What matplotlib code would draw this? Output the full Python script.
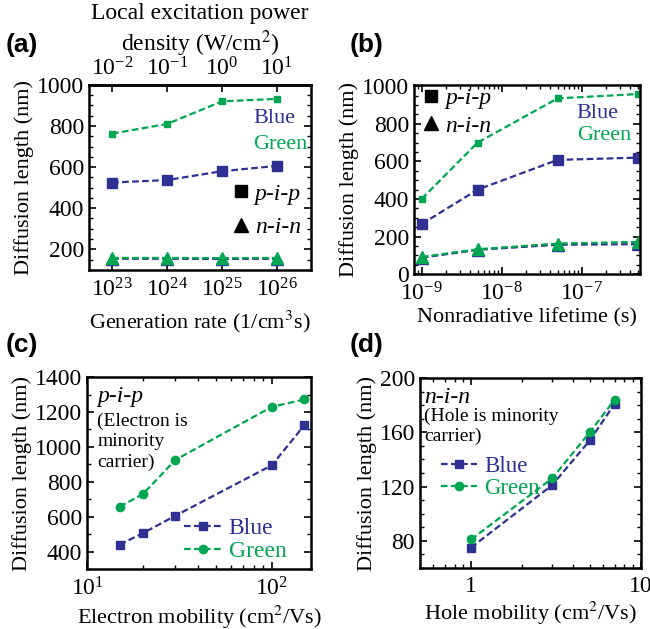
import numpy as np
from matplotlib import pyplot as plt
from matplotlib.lines import Line2D
from matplotlib.ticker import AutoMinorLocator, NullFormatter, FixedLocator, FuncFormatter, LogLocator

plt.rcParams['font.family'] = ['Liberation Serif', 'DejaVu Serif']
plt.rcParams['mathtext.fontset'] = 'stix'
plt.rcParams['font.size'] = 16
plt.rcParams['axes.linewidth'] = 1.8

blue = '#2e3192'
green = '#00a651'

# (a) generation rate sweep
gen_rate = [1e23, 1e24, 1e25, 1e26]
a_pip_blue = [525, 537, 580, 606]
a_pip_green = [763, 810, 920, 932]
a_nin_blue = [154, 154, 153, 154]
a_nin_green = [158, 158, 157, 158]

# (b) nonradiative lifetime sweep
lifetime = [1e-9, 5e-9, 5e-8, 5e-7]
b_pip_blue = [267, 450, 608, 620]
b_pip_green = [401, 700, 935, 958]
b_nin_blue = [88, 130, 157, 160]
b_nin_green = [92, 133, 163, 172]

# (c) electron mobility sweep (p-i-p)
e_mob = [15, 20, 30, 100, 150]
c_blue = [440, 505, 605, 895, 1125]
c_green = [658, 728, 925, 1230, 1272]

# (d) hole mobility sweep (n-i-n)
h_mob = [1, 3, 5, 7]
d_blue = [75, 121, 154, 181]
d_green = [81, 126, 160, 184]

fig = plt.figure(figsize=(6.5, 6.29), dpi=100)
ax_a = fig.add_axes([0.137, 0.571, 0.3415, 0.294])
ax_b = fig.add_axes([0.637, 0.564, 0.3477, 0.3005])
ax_c = fig.add_axes([0.134, 0.0954, 0.3446, 0.305])
ax_d = fig.add_axes([0.646, 0.097, 0.340, 0.302])

line_kw = dict(linestyle=(0, (3, 1.5)), linewidth=1.6)
TICK = 17


def style(ax):
    ax.tick_params(which='both', direction='in', top=True, right=True, labelsize=TICK)
    ax.tick_params(which='major', length=5, width=1.2)
    ax.tick_params(which='minor', length=3, width=1.0)
    ax.tick_params(axis='x', which='major', pad=6)
    ax.set_ylabel("Diffusion length (nm)", fontsize=16, labelpad=2)


# ---- (a)
ax_a.plot(gen_rate, a_pip_blue, color=blue, marker='s', markersize=6.5, **line_kw)
ax_a.plot(gen_rate, a_pip_green, color=green, marker='s', markersize=5, **line_kw)
ax_a.plot(gen_rate, a_nin_blue, color=blue, marker='^', markersize=8.5, **line_kw)
ax_a.plot(gen_rate, a_nin_green, color=green, marker='^', markersize=8.5, **line_kw)
ax_a.set_xscale('log')
ax_a.set_xlim(10**22.58, 10**26.62)
ax_a.xaxis.set_major_locator(LogLocator(base=10, numticks=12))
ax_a.set_ylim(100, 1000)
ax_a.set_yticks([200, 400, 600, 800, 1000])
ax_a.yaxis.set_minor_locator(AutoMinorLocator(4))
style(ax_a)
ax_a.set_xlabel("Generation rate (1/cm$^3$s)", fontsize=16, labelpad=5)
sec = ax_a.secondary_xaxis('top', functions=(lambda x: x / 1e25, lambda x: x * 1e25))
sec.xaxis.set_major_locator(LogLocator(base=10, numticks=12))
sec.tick_params(which='both', direction='in', labelsize=TICK)
sec.tick_params(which='major', length=5, width=1.2)
sec.tick_params(which='minor', length=3, width=1.0)
sec.set_xlabel("Local excitation power\ndensity (W/cm$^2$)", fontsize=17, labelpad=4)
ax_a.tick_params(top=False, which='both')
ax_a.text(0.74, 0.82, "Blue", color=blue, transform=ax_a.transAxes, ha='left', va='center', fontsize=16)
ax_a.text(0.74, 0.676, "Green", color=green, transform=ax_a.transAxes, ha='left', va='center', fontsize=16)
h_sq = Line2D([], [], color='black', marker='s', linestyle='none', markersize=9)
h_tr = Line2D([], [], color='black', marker='^', linestyle='none', markersize=10)
ax_a.legend([h_sq, h_tr], ["p-i-p", "n-i-n"], loc='center right', bbox_to_anchor=(1.05, 0.32),
            frameon=False, handlelength=0.6, handletextpad=0.3, labelspacing=0.5,
            prop={'style': 'italic', 'size': 17})

# ---- (b)
ax_b.plot(lifetime, b_pip_blue, color=blue, marker='s', markersize=6.5, **line_kw)
ax_b.plot(lifetime, b_pip_green, color=green, marker='s', markersize=5, **line_kw)
ax_b.plot(lifetime, b_nin_blue, color=blue, marker='^', markersize=8.5, **line_kw)
ax_b.plot(lifetime, b_nin_green, color=green, marker='^', markersize=8.5, **line_kw)
ax_b.set_xscale('log')
ax_b.set_xlim(10**-9.096, 10**-6.27)
ax_b.set_ylim(0, 1005)
ax_b.set_yticks([0, 200, 400, 600, 800, 1000])
ax_b.yaxis.set_minor_locator(AutoMinorLocator(4))
style(ax_b)
ax_b.set_xlabel("Nonradiative lifetime (s)", fontsize=16, labelpad=2)
ax_b.text(0.72, 0.85, "Blue", color=blue, transform=ax_b.transAxes, ha='left', va='center', fontsize=16)
ax_b.text(0.72, 0.735, "Green", color=green, transform=ax_b.transAxes, ha='left', va='center', fontsize=16)
ax_b.legend([h_sq, h_tr], ["p-i-p", "n-i-n"], loc='upper left', bbox_to_anchor=(-0.05, 1.10),
            frameon=False, handlelength=0.6, handletextpad=0.3, labelspacing=0.25,
            prop={'style': 'italic', 'size': 17})

# ---- (c)
ax_c.plot(e_mob, c_blue, color=blue, marker='s', markersize=6, label="Blue", **line_kw)
ax_c.plot(e_mob, c_green, color=green, marker='o', markersize=6, label="Green", **line_kw)
ax_c.set_xscale('log')
ax_c.set_xlim(10, 163)
ax_c.set_ylim(300, 1400)
ax_c.set_yticks([400, 600, 800, 1000, 1200, 1400])
ax_c.yaxis.set_minor_locator(AutoMinorLocator(2))
ax_c.xaxis.set_minor_formatter(NullFormatter())
style(ax_c)
ax_c.set_xlabel("Electron mobility (cm$^2$/Vs)", fontsize=16, labelpad=2)
ax_c.text(0.045, 0.90, "p-i-p", style='italic', transform=ax_c.transAxes, ha='left', va='center', fontsize=17)
ax_c.text(0.045, 0.665, "(Electron is\nminority\ncarrier)", transform=ax_c.transAxes,
          ha='left', va='center', fontsize=14, linespacing=1.25)
ax_c.legend(loc='lower right', bbox_to_anchor=(0.985, -0.075), frameon=False, labelcolor='linecolor',
            handlelength=1.6, handletextpad=0.3, labelspacing=0.05, fontsize=17)

# ---- (d)
ax_d.plot(h_mob, d_blue, color=blue, marker='s', markersize=6, label="Blue", **line_kw)
ax_d.plot(h_mob, d_green, color=green, marker='o', markersize=6, label="Green", **line_kw)
ax_d.set_xscale('log')
ax_d.set_xlim(0.5, 10)
ax_d.set_ylim(60, 200)
ax_d.set_yticks([80, 120, 160, 200])
ax_d.yaxis.set_minor_locator(AutoMinorLocator(4))
ax_d.xaxis.set_major_locator(FixedLocator([1, 10]))
ax_d.xaxis.set_major_formatter(FuncFormatter(lambda v, p: "%g" % v))
ax_d.xaxis.set_minor_formatter(NullFormatter())
style(ax_d)
ax_d.set_xlabel("Hole mobility (cm$^2$/Vs)", fontsize=16, labelpad=2)
ax_d.text(0.02, 0.90, "n-i-n", style='italic', transform=ax_d.transAxes, ha='left', va='center', fontsize=17)
ax_d.text(0.02, 0.745, "(Hole is minority\ncarrier)", transform=ax_d.transAxes,
          ha='left', va='center', fontsize=14, linespacing=1.2)
ax_d.legend(loc='upper left', bbox_to_anchor=(0.0, 0.70), frameon=False, labelcolor='linecolor',
            handlelength=1.6, handletextpad=0.3, labelspacing=0.05, fontsize=16.5)

for lab, x, y in [("(a)", 0.008, 0.928), ("(b)", 0.538, 0.928), ("(c)", 0.008, 0.452), ("(d)", 0.538, 0.452)]:
    fig.text(x, y, lab, fontsize=19, fontweight='bold', family='Liberation Sans', va='center')

fig.savefig("out.png", dpi=100)
